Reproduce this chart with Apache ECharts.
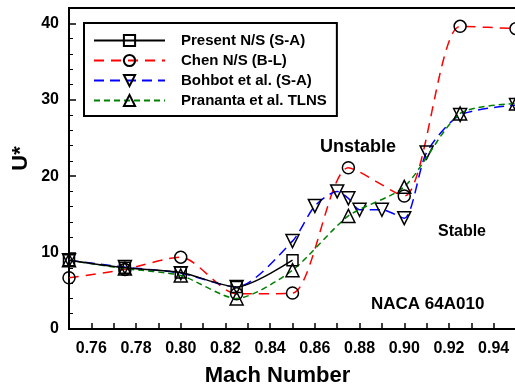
<!DOCTYPE html>
<html>
<head>
<meta charset="utf-8">
<script src="https://cdn.jsdelivr.net/npm/echarts@6/dist/echarts.min.js"></script>
<style>
  html, body { margin: 0; padding: 0; background: #fff; }
  #chart { width: 515px; height: 392px; }
</style>
</head>
<body>
<div id="chart"></div>
<script>
// Mach number / flutter speed U* data
const presentMach = [0.75, 0.775, 0.80, 0.825, 0.85];
const presentU    = [9.0, 8.0, 7.4, 5.5, 9.0];

const chenMach = [0.75, 0.775, 0.80, 0.825, 0.85, 0.875, 0.90, 0.925, 0.95];
const chenU    = [6.7, 7.8, 9.4, 4.6, 4.7, 21.1, 17.4, 39.6, 39.3];

const bohbotMach = [0.75, 0.775, 0.80, 0.825, 0.85, 0.86, 0.87, 0.875, 0.88, 0.89, 0.90, 0.91, 0.925, 0.95];
const bohbotU    = [9.0, 8.1, 7.3, 5.5, 11.5, 16.1, 18.0, 17.1, 15.6, 15.6, 14.5, 23.1, 28.0, 29.3];

const pranantaMach = [0.75, 0.775, 0.80, 0.825, 0.85, 0.875, 0.90, 0.925, 0.95];
const pranantaU    = [9.0, 7.9, 7.0, 4.0, 7.7, 14.8, 18.6, 28.2, 29.5];

const seriesNames = ['Present N/S (S-A)', 'Chen N/S (B-L)', 'Bohbot et al. (S-A)', 'Prananta et al. TLNS'];

const FONT = '"Liberation Sans", Arial, sans-serif';

const pairs = (xs, ys) => xs.map((x, i) => [x, ys[i]]);

const markerStyle = { color: 'rgba(255,255,255,0)', borderColor: '#000', borderWidth: 1.5 };

const chart = echarts.init(document.getElementById('chart'), null, { renderer: 'canvas' });

chart.setOption({
  animation: false,
  backgroundColor: '#fff',
  grid: {
    left: 69, right: -1, top: 8, bottom: 63,
    outerBoundsMode: 'none',
    show: true, borderColor: '#000', borderWidth: 2
  },
  legend: {
    orient: 'vertical',
    left: 84, top: 23,
    padding: [10, 10, 8, 9],
    itemGap: 5,
    itemWidth: 71,
    itemHeight: 14,
    borderColor: '#000',
    borderWidth: 2,
    backgroundColor: '#fff',
    data: seriesNames,
    textStyle: {
      fontFamily: FONT, fontWeight: 'bold', fontSize: 15, color: '#000',
      padding: [0, 0, 0, 11]
    }
  },
  xAxis: {
    type: 'value',
    min: 0.75, max: 0.95, interval: 0.01,
    name: 'Mach Number',
    nameLocation: 'middle',
    nameGap: 36,
    nameTextStyle: { fontFamily: FONT, fontWeight: 'bold', fontSize: 22, color: '#000', padding: [0, 30, 0, 0] },
    axisLine: { lineStyle: { color: '#000', width: 2 } },
    axisTick: { inside: true, length: 6, lineStyle: { color: '#000', width: 1.5 } },
    splitLine: { show: false },
    axisLabel: {
      margin: 12,
      fontFamily: FONT, fontWeight: 'bold', fontSize: 16, color: '#000',
      formatter: v => (Math.round(v * 100) % 2 === 0 ? v.toFixed(2) : '')
    }
  },
  yAxis: {
    type: 'value',
    min: 0, max: 42, interval: 10,
    name: 'U*',
    nameLocation: 'middle',
    nameGap: 37,
    nameMoveOverlap: false,
    nameRotate: 90,
    nameTextStyle: { fontFamily: FONT, fontWeight: 'bold', fontSize: 22, color: '#000', padding: [0, 0, 0, 20] },
    axisLine: { show: true, lineStyle: { color: '#000', width: 2 } },
    axisTick: { show: true, inside: true, length: 7, lineStyle: { color: '#000', width: 1.5 } },
    minorTick: { show: true, splitNumber: 5, length: 4, lineStyle: { color: '#000', width: 1 } },
    splitLine: { show: false },
    axisLabel: {
      margin: 10, showMaxLabel: false,
      fontFamily: FONT, fontWeight: 'bold', fontSize: 16, color: '#000'
    }
  },
  graphic: [
    { type: 'text', left: 320, top: 138, style: { text: 'Unstable', font: 'bold 18px ' + FONT, fill: '#000' } },
    { type: 'text', left: 438, top: 224, style: { text: 'Stable', font: 'bold 16px ' + FONT, fill: '#000' } },
    { type: 'text', left: 371, top: 296, style: { text: 'NACA 64A010', font: 'bold 17px ' + FONT, fill: '#000' } }
  ],
  series: [
    {
      name: seriesNames[0], type: 'line', data: pairs(presentMach, presentU),
      smooth: 0.25, symbol: 'rect', symbolSize: 11,
      lineStyle: { color: '#000', width: 1.5 },
      itemStyle: markerStyle, color: '#000', z: 5
    },
    {
      name: seriesNames[1], type: 'line', data: pairs(chenMach, chenU),
      smooth: 0.25, symbol: 'circle', symbolSize: 12,
      lineStyle: { color: '#ff0000', width: 1.5, type: [10, 7] },
      itemStyle: markerStyle, color: '#ff0000', z: 2
    },
    {
      name: seriesNames[2], type: 'line', data: pairs(bohbotMach, bohbotU),
      smooth: 0.25, symbol: 'triangle', symbolRotate: 180, symbolSize: 13,
      lineStyle: { color: '#0000ff', width: 1.5, type: [10, 6] },
      itemStyle: markerStyle, color: '#0000ff', z: 3
    },
    {
      name: seriesNames[3], type: 'line', data: pairs(pranantaMach, pranantaU),
      smooth: 0.25, symbol: 'triangle', symbolSize: 13,
      lineStyle: { color: '#008000', width: 1.5, type: [6, 4] },
      itemStyle: markerStyle, color: '#008000', z: 4
    }
  ]
});
</script>
</body>
</html>
